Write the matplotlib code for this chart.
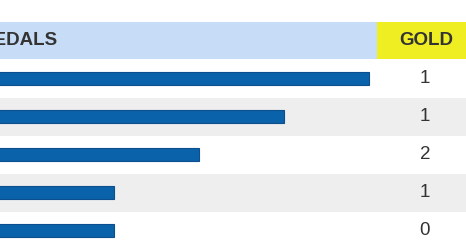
import matplotlib
matplotlib.use("Agg")
import matplotlib.pyplot as plt
from matplotlib.patches import Rectangle
from matplotlib.transforms import blended_transform_factory

# Data
countries = ["A", "B", "C", "D", "E"]
total_medals = [5, 4, 3, 2, 2]
gold = [1, 1, 2, 1, 0]
header_medals = "MEDALS"
header_gold = "GOLD"

plt.rcParams['font.family'] = ['Liberation Sans', 'DejaVu Sans']

fig = plt.figure(figsize=(4.66, 2.5), dpi=100)
ax = fig.add_axes([0, 0, 1, 1])
ax.set_axis_off()

# scale: 85 px per medal, zero at x=-56 px
px_per = 85.0
x0 = -56.0
ax.set_xlim((0 - x0) / px_per, (466 - x0) / px_per)
row_px = 38.0
c0 = 78.5
ax.set_ylim((250 - c0) / row_px, (0 - c0) / row_px)

tx = blended_transform_factory(ax.transAxes, ax.transData)

# header
ax.add_patch(Rectangle((0, -1.5), 1, 0.98, transform=tx, facecolor="#c7ddf7", edgecolor="none", zorder=0))
ax.add_patch(Rectangle((377 / 466, -1.5), 1 - 377 / 466, 0.98, transform=tx, facecolor="#eeee22", edgecolor="none", zorder=1))
ax.text(58 / 466, -1.0, header_medals, transform=tx, ha="right", va="center",
        fontsize=13.5, fontweight="bold", color="#333333")
ax.text(426 / 466, -1.0, header_gold, transform=tx, ha="center", va="center",
        fontsize=13.5, fontweight="bold", color="#333333")

ys = list(range(len(countries)))
for i in ys:
    if i % 2 == 1:
        ax.add_patch(Rectangle((0, i - 0.5), 1, 1.0, transform=tx, facecolor="#eeeeee", edgecolor="none", zorder=0))

ax.barh(ys, total_medals, height=0.32, left=0, color="#0a63aa", edgecolor="#0d4f8c", linewidth=0.8, zorder=2)

for i, g in zip(ys, gold):
    ax.text(425 / 466, i, str(g), transform=tx, ha="center", va="center",
            fontsize=13.5, color="#333333")

fig.savefig("out.png", dpi=100)
